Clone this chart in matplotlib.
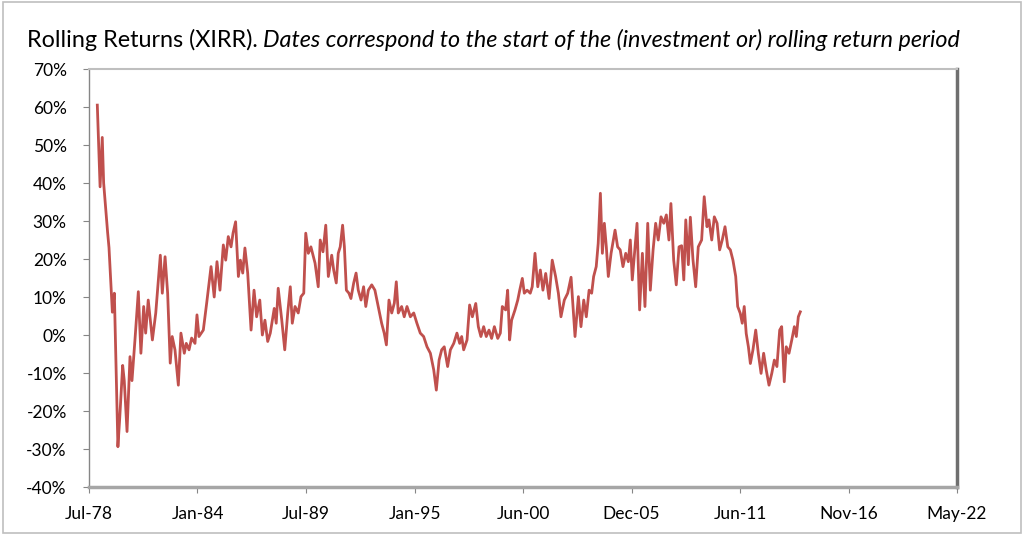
import matplotlib
matplotlib.use("Agg")
import matplotlib.pyplot as plt
import numpy as np
from matplotlib.patches import Rectangle

# start date of the rolling period (decimal years) and the XIRR (%)
years = [
    1978.97, 1979.11, 1979.22, 1979.29, 1979.49, 1979.56, 1979.73, 1979.83, 1980.01, 1980.10,
    1980.25, 1980.33, 1980.47, 1980.62, 1980.72, 1980.87, 1981.04, 1981.17, 1981.31, 1981.41,
    1981.54, 1981.75, 1981.92, 1982.15, 1982.25, 1982.39, 1982.52, 1982.65, 1982.75, 1982.89,
    1983.06, 1983.19, 1983.36, 1983.46, 1983.60, 1983.73, 1983.90, 1984.00, 1984.10, 1984.32,
    1984.49, 1984.71, 1984.87, 1985.01, 1985.16, 1985.33, 1985.45, 1985.58, 1985.72, 1985.82,
    1985.95, 1986.09, 1986.19, 1986.31, 1986.42, 1986.56, 1986.73, 1986.88, 1987.01, 1987.17,
    1987.30, 1987.43, 1987.57, 1987.70, 1987.90, 1988.00, 1988.10, 1988.28, 1988.43, 1988.58,
    1988.71, 1988.81, 1988.95, 1989.11, 1989.25, 1989.39, 1989.49, 1989.62, 1989.75, 1989.96,
    1990.12, 1990.22, 1990.36, 1990.50, 1990.63, 1990.80, 1990.90, 1991.03, 1991.13, 1991.23,
    1991.35, 1991.44, 1991.54, 1991.67, 1991.77, 1991.91, 1992.03, 1992.14, 1992.28, 1992.41,
    1992.52, 1992.65, 1992.82, 1992.98, 1993.15, 1993.32, 1993.45, 1993.56, 1993.69, 1993.83,
    1993.96, 1994.06, 1994.16, 1994.33, 1994.46, 1994.60, 1994.77, 1994.94, 1995.10, 1995.27,
    1995.44, 1995.61, 1995.78, 1995.95, 1996.08, 1996.22, 1996.35, 1996.48, 1996.65, 1996.79,
    1996.96, 1997.12, 1997.26, 1997.36, 1997.46, 1997.63, 1997.76, 1997.90, 1998.07, 1998.20,
    1998.33, 1998.47, 1998.60, 1998.74, 1998.87, 1999.01, 1999.18, 1999.31, 1999.41, 1999.58,
    1999.68, 1999.78, 1999.88, 2000.05, 2000.19, 2000.29, 2000.42, 2000.52, 2000.66, 2000.82,
    2000.92, 2001.06, 2001.20, 2001.33, 2001.46, 2001.60, 2001.77, 2001.93, 2002.10, 2002.24,
    2002.37, 2002.54, 2002.71, 2002.88, 2002.99, 2003.08, 2003.25, 2003.38, 2003.52, 2003.65,
    2003.79, 2003.92, 2004.02, 2004.15, 2004.25, 2004.36, 2004.46, 2004.56, 2004.66, 2004.76,
    2004.90, 2005.10, 2005.23, 2005.36, 2005.50, 2005.64, 2005.77, 2005.87, 2005.97, 2006.07,
    2006.21, 2006.34, 2006.48, 2006.61, 2006.75, 2006.88, 2007.02, 2007.15, 2007.28, 2007.42,
    2007.56, 2007.69, 2007.82, 2007.92, 2008.06, 2008.19, 2008.33, 2008.46, 2008.57, 2008.67,
    2008.80, 2008.90, 2009.03, 2009.17, 2009.30, 2009.47, 2009.60, 2009.74, 2009.84, 2009.98,
    2010.11, 2010.25, 2010.38, 2010.51, 2010.65, 2010.79, 2010.92, 2011.05, 2011.19, 2011.29,
    2011.42, 2011.52, 2011.62, 2011.72, 2011.83, 2011.93, 2012.06, 2012.20, 2012.33, 2012.47,
    2012.60, 2012.73, 2012.87, 2013.01, 2013.14, 2013.27, 2013.41, 2013.51, 2013.64, 2013.74,
    2013.88, 2014.02, 2014.15, 2014.25, 2014.35, 2014.45,
]
xirr = [
    60.5, 39, 52, 40, 27, 23, 6, 11, -29.4, -22,
    -8, -12, -25.4, -5.7, -12, -1.3, 11.4, -4.8, 7.5, 0.5,
    9.2, -1.3, 5.8, 21, 11, 20.6, 11, -7.4, -0.4, -3.9,
    -13.2, 0.5, -4.8, -2.2, -3.9, -0.8, -2.2, 5.3, -0.4, 1.3,
    8.4, 18, 10, 19.3, 11.8, 23.7, 19.7, 25.9, 23.2, 26.8,
    29.8, 15.4, 19.7, 16.3, 22.9, 16.3, 1.3, 11.8, 4.8, 9.2,
    0, 3.9, -1.7, 0.5, 7, 3.1, 12.3, 3.9, -3.9, 5.8,
    12.7, 3.1, 7.5, 5.8, 10.1, 11, 26.8, 21.5, 23.2, 18.9,
    12.7, 25, 21.9, 28.9, 15.4, 21, 17.1, 13.7, 21.5, 23.2,
    28.9, 23.2, 11.8, 11, 9.6, 13.7, 16.3, 11.8, 9.2, 12.7,
    7.5, 11.8, 13.2, 11.8, 7.5, 3.1, 0.5, -2.6, 9.2, 5.8,
    8.4, 14, 5.8, 7.5, 4.8, 7.5, 4.8, 5.8, 3.1, 0.5,
    -0.4, -3.1, -4.8, -9.2, -14.5, -6.6, -3.9, -3.1, -8.3, -3.9,
    -2.2, 0.5, -2.2, -0.4, -3.9, -1.3, 7.9, 4.8, 8.3, 2.2,
    -0.4, 2.2, -0.4, 1.3, -0.9, 2.2, -0.9, 0.5, 7.5, 6.6,
    11.8, -1.3, 3.9, 6.6, 9.2, 11.8, 14.9, 11, 11.8, 11,
    12.7, 21.5, 12.7, 17.1, 11.8, 16.2, 9.6, 19.7, 15.4, 11,
    4.8, 9.2, 11, 15.2, 6.5, -0.4, 10.1, 2.2, 9.2, 4.8,
    11.8, 11, 15.4, 18, 24.1, 37.3, 21.5, 29.4, 23.2, 15.4,
    21.5, 27.6, 23.2, 22.4, 18, 21.5, 19.3, 25, 14.5, 20.6,
    29.4, 6.6, 21.5, 7.5, 29.4, 11.8, 22.4, 29.4, 25, 31.1,
    29.4, 31.6, 25, 34.6, 19.7, 13.2, 23.2, 23.5, 14.5, 30.3,
    18.5, 31, 20, 12.7, 23.2, 25, 36.4, 28.5, 30.3, 25,
    31.1, 29.4, 22.4, 25, 28.5, 23.2, 22.4, 19.7, 15.4, 7.5,
    5.7, 3.1, 7.5, 0.4, -3.1, -7.5, -3.9, 1.3, -4.8, -10.1,
    -4.8, -9.2, -13.2, -10.1, -6.6, -8.3, 1.3, 2.2, -12.3, -3.1,
    -4.8, -1.3, 2.2, -0.4, 4.8, 6.1,
]

tick_labels = ["Jul-78", "Jan-84", "Jul-89", "Jan-95", "Jun-00",
               "Dec-05", "Jun-11", "Nov-16", "May-22"]
x_min, x_max = 1978.55, 2022.36
y_ticks = list(range(-40, 71, 10))

fig = plt.figure(figsize=(10.24, 5.35), dpi=100)
plt.rcParams['font.family'] = ['Lato', 'DejaVu Sans']

# outer chart frame
fig.patches.append(Rectangle((0.003, 0.004), 0.994, 0.992, transform=fig.transFigure,
                             fill=False, edgecolor='#bfbfbf', linewidth=1.2))

ax = fig.add_axes([0.0869, 0.0897, 0.8477, 0.7813])
ax.plot(years, xirr, color='#C0504D', linewidth=2.0)

ax.set_xlim(x_min, x_max)
ax.set_ylim(-40, 70)
ax.set_xticks(np.linspace(x_min, x_max, len(tick_labels)))
ax.set_xticklabels(tick_labels)
ax.set_yticks(y_ticks)
ax.set_yticklabels([f"{v}%" for v in y_ticks])
ax.tick_params(axis='both', labelsize=12.5, colors='#868686', labelcolor='black',
               length=4, width=0.8)
ax.tick_params(axis='x', pad=10)
ax.tick_params(axis='y', pad=12)

# plot area border with a shadow to the right and bottom
ax.spines['left'].set_color('#868686')
ax.spines['left'].set_linewidth(1.0)
ax.spines['top'].set_color('#bfbfbf')
ax.spines['top'].set_linewidth(1.5)
ax.spines['right'].set_color('#6f6f6f')
ax.spines['right'].set_linewidth(2.5)
ax.spines['bottom'].set_color('#a6a6a6')
ax.spines['bottom'].set_linewidth(2.5)

# title: plain part followed by italic part
t1 = fig.text(0.026, 0.925, "Rolling Returns (XIRR). ", fontsize=16.8, va='center')
fig.canvas.draw()
bb = t1.get_window_extent()
fig.text(bb.x1 / fig.bbox.width, 0.925,
         "Dates correspond to the start of the (investment or) rolling return period",
         fontsize=16.8, style='italic', va='center')

fig.savefig("out.png", dpi=100)
